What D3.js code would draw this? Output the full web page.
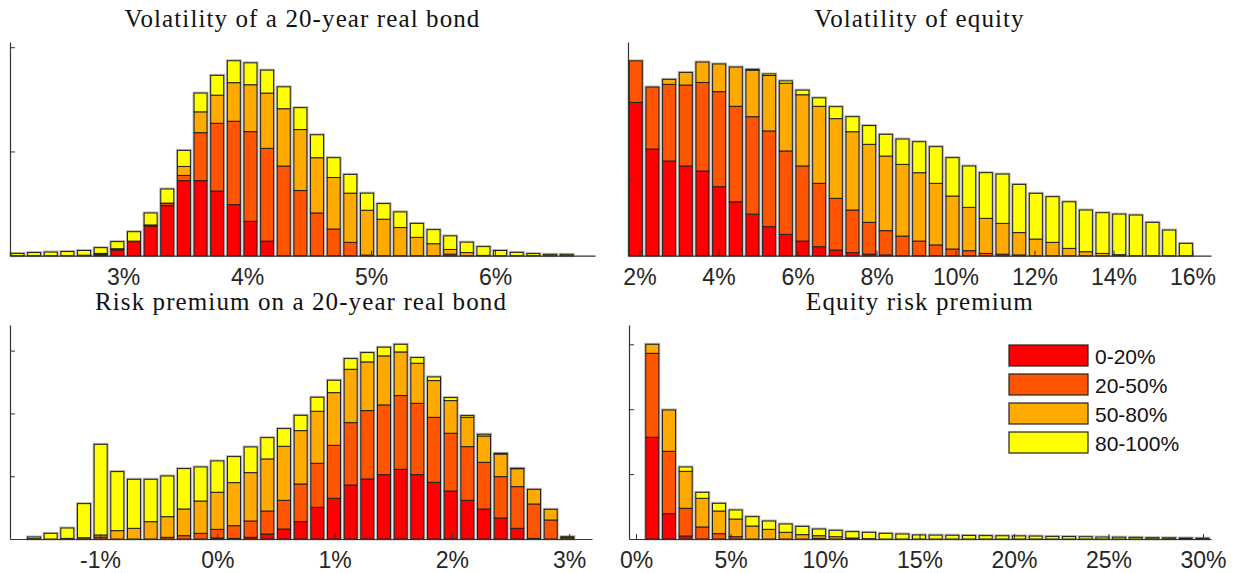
<!DOCTYPE html>
<html>
<head>
<meta charset="utf-8">
<script src="https://cdn.jsdelivr.net/npm/d3@7"></script>
<style>
  body { margin: 0; background: #fff; }
  svg { display: block; }
</style>
</head>
<body>
<div id="chart"></div>
<script>
// bands of the stacked histograms
const bandLabels = ["0-20%", "20-50%", "50-80%", "80-100%"];
const bandColors = ["#ff0000", "#ff5500", "#ffaa00", "#ffff00"];

// histogram bin centres (%)
const bondVolBins = d3.range(34).map(i => 2.149 + i * 0.1342);
const eqVolBins = d3.range(34).map(i => 1.906 + i * 0.422);
const bondPremBins = d3.range(33).map(i => -1.563 + i * 0.1421);
const eqPremBins = d3.range(34).map(i => 0.862 + i * 0.882);

// volatility of a 20-year real bond
const bondVolRed = [0,0,0,0,0,0.01,0.055,0.135,0.285,0.48, 0.72,0.72,0.62,0.49,0.33,0.14,0,0,0,0, 0,0,0,0,0,0,0,0,0,0, 0,0,0,0];
const bondVolOrangeRed = [0,0,0,0,0,0.005,0.007,0.005,0.01,0.02, 0.05,0.46,0.65,0.80,0.86,0.89,0.86,0.625,0.41,0.256, 0.128,0.006,0,0,0,0,0.015,0,0,0, 0,0,0,0];
const bondVolOrange = [0,0,0,0,0.005,0.007,0.005,0,0,0.005, 0.086,0.20,0.27,0.37,0.45,0.53,0.55,0.585,0.53,0.494, 0.472,0.43,0.35,0.27,0.176,0.115,0.045,0.03,0.003,0, 0,0,0,0];
const bondVolYellow = [0.022,0.03,0.035,0.04,0.045,0.055,0.068,0.09,0.115,0.135, 0.154,0.18,0.19,0.21,0.21,0.22,0.21,0.21,0.22,0.19, 0.18,0.164,0.15,0.15,0.134,0.135,0.13,0.10,0.084,0.05, 0.032,0.02,0.013,0.013];

// volatility of equity
const eqVolRed = [1.99,1.385,1.23,1.165,1.10,0.896,0.70,0.54,0.377,0.277, 0.19,0.117,0.074,0.04,0.02,0.01,0,0,0,0, 0,0,0,0,0,0,0,0,0,0, 0,0,0,0];
const eqVolOrangeRed = [0.54,0.805,0.995,1.051,1.15,1.234,1.24,1.265,1.243,1.083, 0.975,0.823,0.671,0.553,0.413,0.315,0.255,0.19,0.14,0.087, 0.065,0.03,0.02,0.01,0,0,0,0,0,0, 0,0,0,0];
const eqVolOrange = [0,0,0.065,0.164,0.265,0.36,0.51,0.605,0.72,0.88, 0.925,1.0,1.035,1.017,1.013,0.969,0.931,0.888,0.80,0.688, 0.563,0.455,0.40,0.29,0.216,0.173,0.095,0.052,0.03,0.013, 0,0,0,0];
const eqVolYellow = [0,0,0,0,0,0,0,0.01,0.02,0.03, 0.06,0.11,0.155,0.195,0.244,0.282,0.329,0.402,0.476,0.498, 0.537,0.593,0.64,0.626,0.594,0.593,0.605,0.541,0.528,0.527, 0.528,0.433,0.333,0.16];

// risk premium on a 20-year real bond
const bondPremRed = [0,0,0,0,0,0,0,0,0,0, 0,0.016,0.01,0.027,0.08,0.159,0.276,0.505,0.648,0.86, 0.956,1.025,1.11,1.025,0.903,0.765,0.616,0.478,0.334,0.17, 0.01,0,0];
const bondPremOrangeRed = [0,0,0,0,0.03,0,0,0,0.027,0.053, 0.09,0.138,0.202,0.26,0.366,0.457,0.60,0.701,0.844,0.993, 1.089,1.11,1.174,1.136,1.035,0.919,0.855,0.743,0.659,0.664, 0.548,0.303,0];
const bondPremOrange = [0.005,0,0.01,0.02,0.034,0.133,0.17,0.276,0.329,0.425, 0.515,0.59,0.686,0.77,0.829,0.86,0.85,0.828,0.839,0.85, 0.775,0.781,0.695,0.638,0.585,0.52,0.467,0.42,0.361,0.286, 0.233,0.17,0.02];
const bondPremYellow = [0.027,0.09,0.165,0.543,1.444,0.94,0.781,0.675,0.648,0.643, 0.542,0.499,0.414,0.409,0.339,0.282,0.244,0.223,0.197,0.17, 0.149,0.138,0.122,0.09,0.058,0.048,0.027,0.027,0.011,0.006, 0,0,0.017];

// equity risk premium
const eqPremRed = [1.567,0.39,0.046,0,0,0,0,0,0,0, 0,0,0,0,0,0,0,0,0,0, 0,0,0,0,0,0,0,0,0,0, 0,0,0,0];
const eqPremOrangeRed = [1.294,0.961,0.427,0.185,0.082,0.036,0,0,0,0, 0.01,0,0,0,0,0,0,0,0,0, 0,0,0,0,0,0,0,0,0,0, 0,0,0,0];
const eqPremOrange = [0.139,0.637,0.57,0.442,0.349,0.272,0.2,0.149,0.103,0.067, 0.041,0.036,0.015,0.005,0,0,0,0,0,0, 0,0,0,0,0,0,0,0,0,0, 0,0,0,0];
const eqPremYellow = [0,0,0.066,0.092,0.119,0.139,0.144,0.128,0.128,0.128, 0.103,0.098,0.098,0.098,0.087,0.077,0.062,0.06,0.058,0.055, 0.052,0.05,0.048,0.045,0.04,0.038,0.035,0.03,0.028,0.025, 0.02,0.018,0.015,0.012];

const keys = ["r", "or", "o", "y"];

const panels = [
  {title: "Volatility of a 20-year real bond", bins: bondVolBins,
   series: [bondVolRed, bondVolOrangeRed, bondVolOrange, bondVolYellow],
   left: 10, right: 595, base: 255.7, top: 42, xDomain: [2.0887, 6.806], yMax: 2.05,
   xTicks: [3,4,5,6], yTicks: [1,2], titleY: 27},
  {title: "Volatility of equity", bins: eqVolBins,
   series: [eqVolRed, eqVolOrangeRed, eqVolOrange, eqVolYellow],
   left: 628, right: 1211, base: 255.7, top: 42, xDomain: [1.709, 16.468], yMax: 2.775,
   xTicks: [2,4,6,8,10,12,14,16], yTicks: [1,2], titleY: 27},
  {title: "Risk premium on a 20-year real bond", bins: bondPremBins,
   series: [bondPremRed, bondPremOrangeRed, bondPremOrange, bondPremYellow],
   left: 10, right: 592, base: 539, top: 325, xDomain: [-1.7673, 3.1943], yMax: 3.408,
   xTicks: [-1,0,1,2,3], yTicks: [1,2,3], titleY: 310},
  {title: "Equity risk premium", bins: eqPremBins,
   series: [eqPremRed, eqPremOrangeRed, eqPremOrange, eqPremYellow],
   left: 629, right: 1211, base: 539, top: 325, xDomain: [-0.3704, 30.423], yMax: 3.297,
   xTicks: [0,5,10,15,20,25,30], yTicks: [1,2,3], titleY: 310, legend: true}
];

const svg = d3.select("#chart").append("svg")
    .attr("width", 1237)
    .attr("height", 573);

svg.append("rect").attr("width", 1237).attr("height", 573).attr("fill", "#fff");

function drawPanel(p) {
    const x = d3.scaleLinear().domain(p.xDomain).range([p.left, p.right]);
    const y = d3.scaleLinear().domain([0, p.yMax]).range([p.base, p.top]);

    const rows = p.bins.map((b, i) => ({
        bin: b, r: p.series[0][i], or: p.series[1][i], o: p.series[2][i], y: p.series[3][i]
    }));
    const stacked = d3.stack().keys(keys)(rows);
    const bw = (x(p.bins[1]) - x(p.bins[0])) * 0.78;

    const g = svg.append("g");

    // light halo round each bar
    g.selectAll(".halo")
        .data(rows)
        .join("rect")
        .attr("class", "halo")
        .attr("x", d => x(d.bin) - bw / 2)
        .attr("width", bw)
        .attr("y", d => y(d.r + d.or + d.o + d.y))
        .attr("height", d => y(0) - y(d.r + d.or + d.o + d.y))
        .attr("fill", "none")
        .attr("stroke", "#b8b8b8")
        .attr("stroke-width", 3);

    g.selectAll(".layer")
        .data(stacked)
        .join("g")
        .attr("class", "layer")
        .attr("fill", (d, i) => bandColors[i])
        .selectAll("rect")
        .data(d => d.filter(s => s[1] - s[0] > 0))
        .join("rect")
        .attr("x", d => x(d.data.bin) - bw / 2)
        .attr("width", bw)
        .attr("y", d => y(d[1]))
        .attr("height", d => y(d[0]) - y(d[1]))
        .attr("stroke", "#1f1f1f")
        .attr("stroke-width", 1);

    const xAxis = g.append("g")
        .attr("transform", `translate(0,${p.base})`)
        .call(d3.axisBottom(x)
            .tickValues(p.xTicks)
            .tickSize(-5)
            .tickSizeOuter(0)
            .tickPadding(13)
            .tickFormat(d => d + "%"));

    const yAxis = g.append("g")
        .attr("transform", `translate(${p.left},0)`)
        .call(d3.axisLeft(y)
            .tickValues(p.yTicks)
            .tickSize(-5)
            .tickSizeOuter(0)
            .tickFormat(""));

    [xAxis, yAxis].forEach(a => {
        a.select(".domain").attr("stroke", "#333").attr("stroke-width", 1.2);
        a.selectAll(".tick line").attr("stroke", "#333");
    });
    xAxis.selectAll("text")
        .attr("font-family", "'Liberation Sans', Arial, sans-serif")
        .attr("font-size", 23)
        .attr("fill", "#262626");

    svg.append("text")
        .attr("x", (p.left + p.right) / 2)
        .attr("y", p.titleY)
        .attr("text-anchor", "middle")
        .attr("font-family", "'Liberation Serif', 'Times New Roman', serif")
        .attr("font-size", 25)
        .attr("letter-spacing", 1.1)
        .attr("fill", "#111")
        .text(p.title);

    if (p.legend) drawLegend();
}

function drawLegend() {
    const lg = svg.append("g").attr("transform", "translate(1009,345)");
    const item = lg.selectAll("g")
        .data(bandLabels)
        .join("g")
        .attr("transform", (d, i) => `translate(0,${i * 29})`);
    item.append("rect")
        .attr("width", 79)
        .attr("height", 21)
        .attr("fill", (d, i) => bandColors[i])
        .attr("stroke", "#222")
        .attr("stroke-width", 1.2);
    item.append("text")
        .attr("x", 86)
        .attr("y", 11)
        .attr("dy", "0.36em")
        .attr("font-family", "'Liberation Sans', Arial, sans-serif")
        .attr("font-size", 21)
        .attr("fill", "#111")
        .text(d => d);
}

panels.forEach(drawPanel);
</script>
</body>
</html>
